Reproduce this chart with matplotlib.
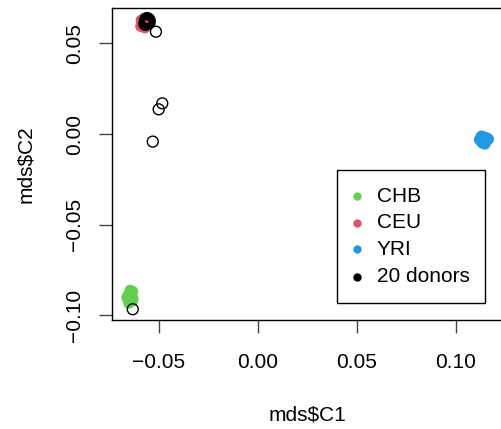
import matplotlib
matplotlib.use("Agg")
import matplotlib.pyplot as plt
from matplotlib.patches import Rectangle

plt.rcParams["font.family"] = ["Liberation Sans", "DejaVu Sans"]

# MDS coordinates
chb_x = [-0.0650, -0.0643, -0.0655, -0.0637, -0.0646, -0.0658, -0.0632, -0.0641, -0.0653, -0.0647,
         -0.0635, -0.0660, -0.0644, -0.0630, -0.0651, -0.0639, -0.0656, -0.0633, -0.0648, -0.0642]
chb_y = [-0.0902, -0.0895, -0.0910, -0.0878, -0.0918, -0.0898, -0.0868, -0.0925, -0.0888, -0.0906,
         -0.0915, -0.0903, -0.0862, -0.0908, -0.0932, -0.0880, -0.0893, -0.0921, -0.0912, -0.0897]

ceu_x = [-0.0575, -0.0567, -0.0585, -0.0560, -0.0572, -0.0590, -0.0564, -0.0580, -0.0570,
         -0.0557, -0.0583, -0.0574, -0.0566, -0.0588, -0.0569, -0.0561, -0.0578, -0.0573]
ceu_y = [0.0612, 0.0622, 0.0603, 0.0615, 0.0630, 0.0594, 0.0606, 0.0624, 0.0586,
         0.0618, 0.0611, 0.0637, 0.0598, 0.0627, 0.0608, 0.0632, 0.0591, 0.0617]

yri_x = [0.1140, 0.1132, 0.1148, 0.1125, 0.1155, 0.1138, 0.1144, 0.1120, 0.1160,
         0.1135, 0.1150, 0.1128, 0.1142, 0.1165, 0.1130, 0.1147, 0.1137, 0.1153]
yri_y = [-0.0030, -0.0022, -0.0038, -0.0027, -0.0033, -0.0015, -0.0045, -0.0031, -0.0025,
         -0.0050, -0.0019, -0.0040, -0.0035, -0.0028, -0.0012, -0.0055, -0.0024, -0.0042]

donor_x = [-0.0570, -0.0556, -0.0547, -0.0564, -0.0552, -0.0572, -0.0559, -0.0545, -0.0566, -0.0553,
           -0.0569, -0.0549, -0.0558, -0.0563, -0.0555, -0.0514, -0.0482, -0.0500, -0.0530, -0.0631]
donor_y = [0.0618, 0.0630, 0.0611, 0.0635, 0.0620, 0.0606, 0.0639, 0.0624, 0.0602, 0.0614,
           0.0628, 0.0633, 0.0621, 0.0612, 0.0637, 0.0564, 0.0169, 0.0136, -0.0042, -0.0966]

groups = ["CHB", "CEU", "YRI", "20 donors"]
colors = ["#61D04F", "#DF536B", "#2297E6", "black"]

W, H = 502, 429
fig = plt.figure(figsize=(W / 100, H / 100), dpi=100)
ax = fig.add_axes([112.3 / W, 1 - 320 / H, 1 - 112.3 / W, (320 - 7.7) / H])

for xs, ys, c in [(chb_x, chb_y, colors[0]), (ceu_x, ceu_y, colors[1]), (yri_x, yri_y, colors[2])]:
    ax.scatter(xs, ys, s=66, color=c, edgecolors="none")
ax.scatter(donor_x, donor_y, s=62, facecolors="none", edgecolors="black", linewidths=1.0)

ax.set_xlim(-0.07343, 0.12338)
ax.set_ylim(-0.10254, 0.06963)
ax.spines["right"].set_visible(False)
for sp in ax.spines.values():
    sp.set_linewidth(1.0)

ax.set_xticks([-0.05, 0.0, 0.05, 0.10])
ax.set_xticklabels(["\u22120.05", "0.00", "0.05", "0.10"])
ax.set_yticks([-0.10, -0.05, 0.0, 0.05])
ax.set_yticklabels(["\u22120.10", "\u22120.05", "0.00", "0.05"], rotation=90, va="center")
ax.tick_params(direction="out", length=9.1, width=1.0, labelsize=15, color="#444444")
ax.tick_params(axis="x", pad=15)
ax.tick_params(axis="y", pad=11)

ax.set_xlabel("mds$C1", fontsize=15, labelpad=23.5)
ax.set_ylabel("mds$C2", fontsize=15, labelpad=22)

# legend drawn R-style in figure pixel space
def fx(px):
    return px / W

def fy(py):
    return 1 - py / H

fig.patches.append(Rectangle((fx(337.3), fy(302.7)), fx(485) - fx(337.3), fy(170) - fy(302.7),
                             transform=fig.transFigure, fill=False, edgecolor="black", linewidth=1.0))
row_y = [196, 222.7, 249.3, 276.7]
for name, c, ry in zip(groups, colors, row_y):
    fig.add_artist(plt.Line2D([fx(356.7)], [fy(ry)], transform=fig.transFigure,
                              linestyle="none", marker="o", markersize=5, color=c))
    fig.text(fx(376.7), fy(ry), name, fontsize=15, va="center", ha="left")

fig.savefig("out.png", dpi=100)
